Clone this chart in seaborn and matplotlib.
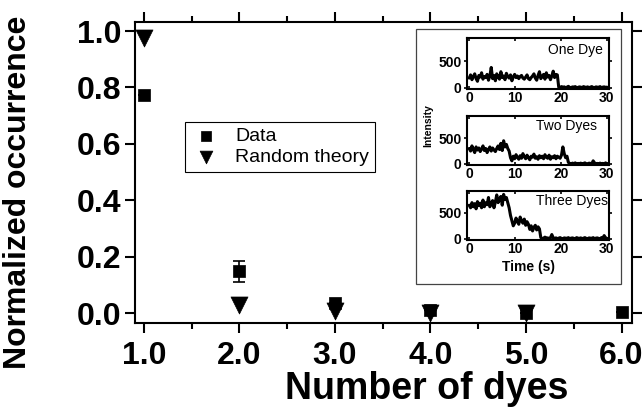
import numpy as np
import pandas as pd
import matplotlib
matplotlib.use("Agg")
import matplotlib.pyplot as plt
from matplotlib.patches import Rectangle
import seaborn as sns

# ---- main data ----
n_dyes = [1, 2, 3, 4, 5, 6]
data_occ = [0.773, 0.149, 0.035, 0.012, 0.002, 0.004]
data_err_lo = [0.0, 0.037, 0.0, 0.0, 0.0, 0.0]
data_err_hi = [0.0, 0.036, 0.0, 0.0, 0.0, 0.0]
theory_dyes = [1, 2, 3, 4, 5]
theory_occ = [0.975, 0.03, 0.008, 0.001, 0.0]
x_ticks = [1.0, 2.0, 3.0, 4.0, 5.0, 6.0]
x_ticklabels = ["1.0", "2.0", "3.0", "4.0", "5.0", "6.0"]
y_ticks = [0.0, 0.2, 0.4, 0.6, 0.8, 1.0]
y_ticklabels = ["0.0", "0.2", "0.4", "0.6", "0.8", "1.0"]

# ---- inset traces (intensity vs time, 0-30 s) ----
one_dye = [180, 240, 150, 210, 260, 170, 120, 230, 200, 280,
           160, 210, 190, 250, 140, 220, 380, 170, 230, 130,
           260, 200, 160, 300, 190, 220, 150, 270, 210, 180,
           240, 130, 200, 250, 190, 220, 170, 210, 230, 180,
           160, 200, 240, 170, 150, 190, 220, 260, 180, 140,
           230, 300, 170, 210, 250, 160, 280, 200, 230, 150,
           220, 310, 190, 250, 240,
           10, 0, 20, 5, 15, 0, 10, 25, 5, 0,
           15, 10, 20, 0, 5, 15, 10, 0, 20, 10,
           5, 15, 0, 10, 20, 5, 0, 15, 10, 5,
           20, 0, 10, 15, 5, 10]
two_dyes = [300, 250, 350, 280, 220, 330, 270, 310, 240, 290,
            350, 260, 300, 220, 280, 330, 250, 310, 270, 240,
            300, 350, 280, 400, 260, 450, 330, 380, 300, 250,
            120, 60, 150, 100, 180, 130, 90, 160, 110, 200,
            140, 100, 170, 120, 80, 150, 130, 190, 110, 140,
            90, 160, 120, 150, 100, 180, 130, 110, 170, 90,
            140, 120, 160, 100, 150, 130, 110, 170, 330, 200, 120, 150,
            30, 10, 0, 15, 5, 20, 0, 10, 5, 15,
            0, 10, 20, 5, 0, 15, 10, 0, 60, 20,
            5, 10, 0, 15, 5, 10, 0, 20, 5]
three_dyes = [650, 600, 700, 620, 680, 580, 720, 640, 690, 600,
              750, 620, 700, 660, 800, 620, 680, 740, 600, 710,
              850, 700, 780, 820, 650, 860, 760, 800, 700, 600,
              450, 350, 250, 300, 400, 330, 280, 420, 350, 300, 380, 260, 330, 280,
              180, 250, 150, 220, 260, 170, 230, 190,
              20, 0, 10, 30, 5, 15, 0, 20, 80, 10,
              5, 15, 0, 10, 20, 5, 0, 15, 10, 5,
              20, 0, 10, 15, 5, 0, 20, 10, 5, 15,
              0, 10, 20, 5, 0, 15, 10, 5, 20, 0,
              10, 15, 5, 0, 20, 10, 60, 15, 5]
trace_names = ["One Dye", "Two Dyes", "Three Dyes"]
trace_values = [one_dye, two_dyes, three_dyes]
time_ticks = [0, 10, 20, 30]
intensity_ticks = [0, 500]

sns.set_style("ticks")
plt.rcParams["font.family"] = ["Liberation Sans", "DejaVu Sans"]
plt.rcParams["text.color"] = "black"
plt.rcParams["axes.labelcolor"] = "black"
plt.rcParams["xtick.color"] = "black"
plt.rcParams["ytick.color"] = "black"

fig = plt.figure(figsize=(6.44, 4.13), dpi=100)
ax = fig.add_axes([0.2096, 0.2179, 0.7718, 0.7288])

sns.scatterplot(x=n_dyes, y=data_occ, marker="s", s=85, color="black",
                edgecolor="black", linewidth=0.5, label="Data", ax=ax, zorder=3)
sns.scatterplot(x=theory_dyes, y=theory_occ, marker="v", s=150, color="black",
                edgecolor="black", linewidth=0.5, label="Random theory", ax=ax, zorder=3)
ax.errorbar(n_dyes, data_occ, yerr=[data_err_lo, data_err_hi], fmt="none",
            ecolor="black", elinewidth=1.2, capsize=4, capthick=1.2, zorder=2)

ax.set_xlim(0.906, 6.11)
ax.set_ylim(-0.035, 1.032)
ax.set_xticks(x_ticks)
ax.set_xticklabels(x_ticklabels)
ax.set_xticks([1.5, 2.5, 3.5, 4.5, 5.5], minor=True)
ax.set_yticks(y_ticks)
ax.set_yticklabels(y_ticklabels)
for s in ax.spines.values():
    s.set_visible(True)
    s.set_linewidth(1.5)
    s.set_color("black")
ax.tick_params(axis="both", which="major", direction="out", length=7, width=1.5,
               labelsize=23, pad=3, top=True, right=True, color="black",
               labelcolor="black")
ax.tick_params(axis="x", which="minor", direction="out", length=4, width=1.5,
               top=True, bottom=True, color="black")
ax.tick_params(axis="x", which="major", pad=6)
for lab in ax.get_xticklabels() + ax.get_yticklabels():
    lab.set_fontweight("bold")

ax.set_xlabel("Number of dyes", fontsize=27, fontweight="bold", color="black")
ax.set_ylabel("Normalized occurrence", fontsize=23, fontweight="bold", color="black")
ax.xaxis.set_label_coords(0.587, -0.16)
ax.yaxis.set_label_coords(-0.205, 0.435)

leg = ax.legend(loc="upper left", bbox_to_anchor=(0.10, 0.668), fontsize=14,
                frameon=True, fancybox=False, edgecolor="black", framealpha=1,
                markerscale=0.75, handletextpad=0.7, borderpad=0.3,
                labelspacing=0.15, handlelength=1.6, borderaxespad=0)
leg.get_frame().set_linewidth(0.8)
for txt in leg.get_texts():
    txt.set_color("black")

# ---- inset ----
box = Rectangle((0.646, 0.312), 0.318, 0.617, transform=fig.transFigure,
                facecolor="white", edgecolor="#444444", linewidth=0.9, zorder=5)
fig.patches.append(box)

inset_pos = [[0.725, 0.7845, 0.221, 0.123],
             [0.725, 0.600, 0.221, 0.119],
             [0.725, 0.419, 0.221, 0.119]]
label_pos = [(0.76, 0.76), (0.70, 0.80), (0.74, 0.80)]
for name, vals, pos, lp in zip(trace_names, trace_values, inset_pos, label_pos):
    iax = fig.add_axes(pos, zorder=6)
    t = np.linspace(0, 30, len(vals))
    df = pd.DataFrame({"t": t, "I": vals})
    sns.lineplot(data=df, x="t", y="I", color="black", linewidth=2.2,
                 estimator=None, sort=False, ax=iax)
    iax.set_xlim(-0.5, 30.5)
    iax.set_ylim(-25, 930)
    iax.set_xticks(time_ticks)
    iax.set_yticks(intensity_ticks)
    iax.set_xlabel("")
    iax.set_ylabel("")
    for s in iax.spines.values():
        s.set_visible(True)
        s.set_linewidth(1.5)
        s.set_color("black")
    iax.tick_params(axis="both", direction="out", length=2.5, width=1.2,
                    labelsize=10, pad=1.5, color="black", labelcolor="black")
    iax.tick_params(axis="x", top=True, direction="in")
    iax.tick_params(axis="y", right=True)
    for lab in iax.get_xticklabels() + iax.get_yticklabels():
        lab.set_fontweight("bold")
    iax.text(lp[0], lp[1], name, transform=iax.transAxes, ha="center",
             va="center", fontsize=10, color="black")

fig.text(528 / 644, 1 - 267 / 413, "Time (s)", ha="center", va="center",
         fontsize=10, fontweight="bold", color="black", zorder=7)
fig.text(428 / 644, 1 - 126 / 413, "Intensity", ha="center", va="center",
         rotation=90, fontsize=7.5, fontweight="bold", color="black", zorder=7)

fig.savefig("out.png", dpi=100)
